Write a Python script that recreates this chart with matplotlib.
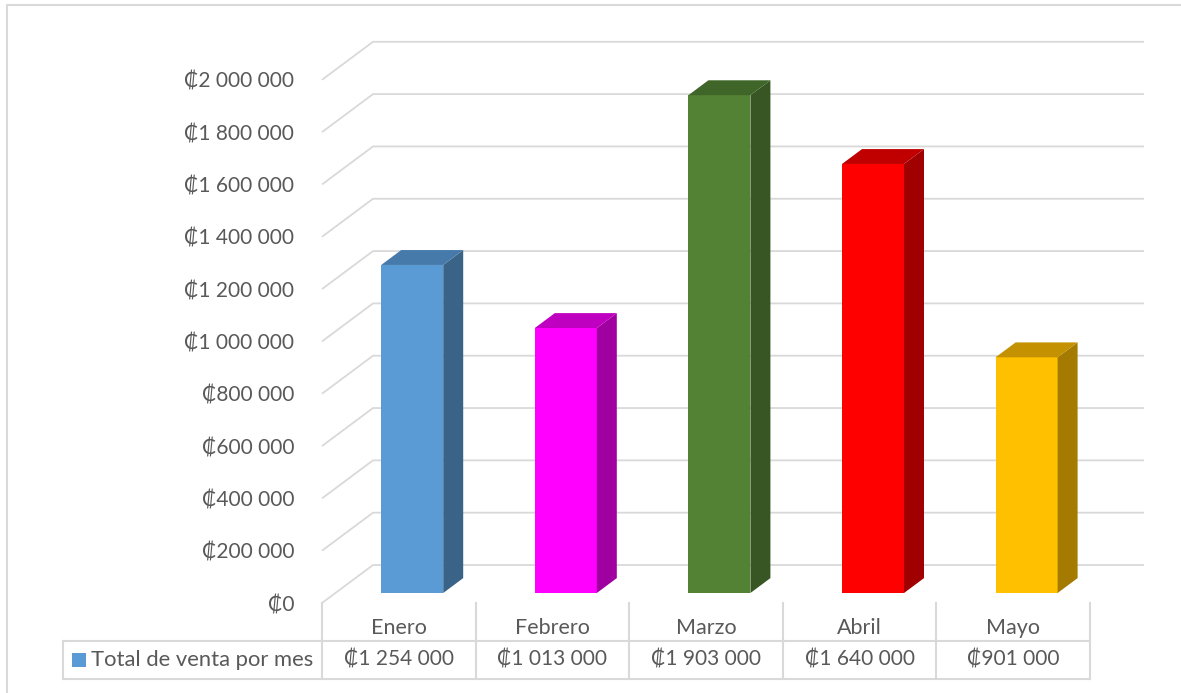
import matplotlib
matplotlib.use("Agg")
import matplotlib.pyplot as plt
from matplotlib.patches import Polygon, Rectangle
from matplotlib.ticker import FuncFormatter

plt.rcParams['font.family'] = ['Lato', 'DejaVu Sans']

# ventas mensuales (colones)
meses = ["Enero", "Febrero", "Marzo", "Abril", "Mayo"]
ventas = [1254000, 1013000, 1903000, 1640000, 901000]
serie = "Total de venta por mes"
marcas = list(range(0, 2000001, 200000))

# colores de cara frontal, lateral y superior de cada columna
caras = ["#5B9BD5", "#FF00FF", "#548235", "#FF0000", "#FFC000"]
lados = ["#3A6487", "#A000A0", "#375623", "#A00000", "#A47B00"]
tapas = ["#467AAA", "#C000C0", "#3F6529", "#C00000", "#C49200"]

GRIS = "#595959"
LINEA = "#D9D9D9"

W, H = 1181, 693
PX_CAT = 153.6          # pixeles por categoria
PX_VAL = 261.6 / 1e6    # pixeles por colon
X0, Y0 = 322, 603       # origen del plano frontal


def px2x(px):
    return -0.5 + (px - X0) / PX_CAT


def py2v(py):
    return (Y0 - py) / PX_VAL


def colones(v):
    return "₡" + format(int(v), ',').replace(',', ' ')


# profundidad del piso y de las columnas
DX, DY = 51 / PX_CAT, 38 / PX_VAL
DF, DB = 0.263, 0.655
BW = 62 / PX_CAT

fig = plt.figure(figsize=(W / 100, H / 100), dpi=100)
ax = fig.add_axes([0, 0, 1, 1])
ax.set_xlim(px2x(0), px2x(W))
ax.set_ylim(py2v(H), py2v(0))
ax.patch.set_visible(False)

# rejilla: diagonal del piso lateral y linea de la pared del fondo
x_fin = px2x(1144)
for v in marcas:
    ax.plot([-0.5, -0.5 + DX, x_fin], [v, v + DY, v + DY],
            color=LINEA, lw=1.3, zorder=1, solid_capstyle='butt')

# columnas 3D
sdx, sdy = (DB - DF) * DX, (DB - DF) * DY
for i, v in enumerate(ventas):
    x0 = i - BW / 2 + DF * DX
    y0 = DF * DY
    ax.add_patch(Rectangle((x0, y0), BW, v, facecolor=caras[i],
                           edgecolor='none', zorder=3))
    ax.add_patch(Polygon([(x0 + BW, y0), (x0 + BW + sdx, y0 + sdy),
                          (x0 + BW + sdx, y0 + v + sdy), (x0 + BW, y0 + v)],
                         closed=True, facecolor=lados[i], edgecolor='none', zorder=3))
    ax.add_patch(Polygon([(x0, y0 + v), (x0 + sdx, y0 + v + sdy),
                          (x0 + BW + sdx, y0 + v + sdy), (x0 + BW, y0 + v)],
                         closed=True, facecolor=tapas[i], edgecolor='none', zorder=3))

# eje vertical
ax.set_yticks(marcas)
ax.yaxis.set_major_formatter(FuncFormatter(lambda v, p: colones(v)))
ax.spines['left'].set_position(('data', -0.5))
for s in ax.spines.values():
    s.set_visible(False)
ax.set_xticks([])
ax.tick_params(axis='y', length=0, pad=20, labelsize=15, labelcolor=GRIS)

# tabla de datos
lw_t = 1.5
for k in range(len(meses) + 1):
    ax.plot([k - 0.5, k - 0.5], [py2v(603), py2v(679)], color=LINEA, lw=lw_t, zorder=2)
ax.plot([px2x(63), px2x(63)], [py2v(641), py2v(679)], color=LINEA, lw=lw_t, zorder=2)
for py in (641, 679):
    ax.plot([px2x(63), len(meses) - 0.5], [py2v(py), py2v(py)], color=LINEA, lw=lw_t, zorder=2)

for i, (m, v) in enumerate(zip(meses, ventas)):
    ax.text(i, py2v(628), m, ha='center', va='center', fontsize=15.5, color=GRIS)
    ax.text(i, py2v(660), colones(v), ha='center', va='center', fontsize=15, color=GRIS)

ax.add_patch(Rectangle((px2x(72), py2v(667)), 14 / PX_CAT, 14 / PX_VAL,
                       facecolor=caras[0], edgecolor='none', zorder=3))
ax.text(px2x(91), py2v(660), serie, ha='left', va='center', fontsize=15.8, color=GRIS)

# borde del area del grafico
ax.plot([7 / W, 7 / W, 1], [0, 1 - 5 / H, 1 - 5 / H], transform=ax.transAxes,
        color=LINEA, lw=1.5, clip_on=False)

fig.savefig("out.png", dpi=100)
